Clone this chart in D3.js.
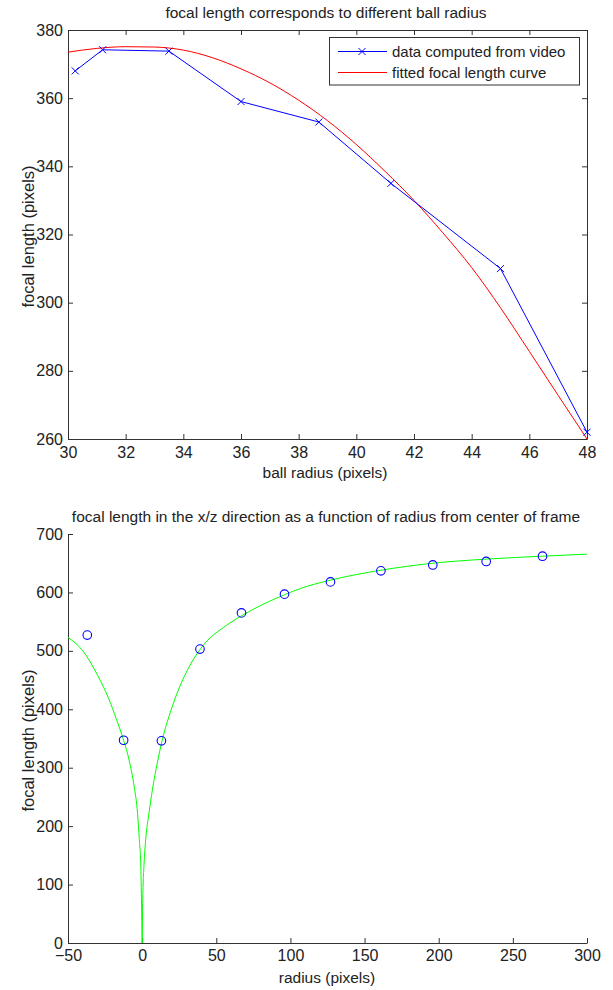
<!DOCTYPE html>
<html>
<head>
<meta charset="utf-8">
<script src="https://cdn.jsdelivr.net/npm/d3@7"></script>
<style>
  body { margin: 0; background: #fff; }
  svg { display: block; font-family: "Liberation Sans", Arial, sans-serif; }
  .axis text { font-size: 16px; fill: #222; }
  .axis path, .axis line { stroke: #333; }
  .title, .label { font-size: 15.5px; fill: #222; }
  .ylabel { font-size: 16.5px; fill: #222; }
  .legend text { font-size: 15px; fill: #222; }
</style>
</head>
<body>
<script>
// top panel: focal length vs ball radius
const ballRadius = [30.25, 31.2, 33.5, 36.0, 38.7, 41.2, 45.0, 48.0];
const focalVideo = [368, 374.2, 373.8, 359, 353, 335, 310, 262];
const fitRadius = [30, 31, 32, 33, 34, 35, 36, 37, 38, 39, 40, 41, 42, 43, 44, 45, 46, 47, 48];
const fitFocal = [373.5, 374.6, 375.1, 375.0, 374.1, 371.9, 368.6, 364.5, 359.4, 353.4, 346.4, 338.5, 330, 320.5, 310.3, 298.5, 285.7, 272.8, 260];
const topXTicks = [30, 32, 34, 36, 38, 40, 42, 44, 46, 48];
const topYTicks = [260, 280, 300, 320, 340, 360, 380];

// bottom panel: focal length vs radius from frame centre
const radiusData = [-37, -12.5, 13, 39, 67, 96, 127, 161, 196, 232, 270];
const focalData = [527, 347, 346, 503, 565, 597, 618, 637, 647, 653, 662];
const fitLeftR = [-50, -40, -30, -22.5, -17.5, -12.5, -8.8, -5.4, -3.1, -1.9, -0.9, -0.3, 0];
const fitLeftF = [523, 500, 458, 418, 384, 347, 313, 268, 222, 177, 131, 50, 0];
const fitRightR = [0, 0.5, 1.2, 2.4, 4.6, 6.9, 10.2, 13.5, 18, 23.5, 30.5, 39.5, 57, 67, 96, 107, 127, 161, 196, 232, 270, 300];
const fitRightF = [0, 85, 131, 177, 222, 262, 308, 347, 387, 427, 467, 504, 544, 560, 596, 607, 621, 638, 650, 657, 662, 665.5];
const botXTicks = [-50, 0, 50, 100, 150, 200, 250, 300];
const botYTicks = [0, 100, 200, 300, 400, 500, 600, 700];

const W = 613, H = 990;
const svg = d3.select("body").append("svg").attr("width", W).attr("height", H);
svg.append("rect").attr("width", W).attr("height", H).attr("fill", "#fff");

const zip = (a, b) => a.map((v, i) => [v, b[i]]);

// ---------- top panel ----------
const x1 = d3.scaleLinear().domain([30, 48]).range([68, 587]);
const y1 = d3.scaleLinear().domain([260, 380]).range([439, 30]);

const upper = svg.append("g");

upper.append("g").attr("class", "axis")
    .attr("transform", `translate(0,${y1.range()[0]})`)
    .call(d3.axisBottom(x1).tickValues(topXTicks).tickSizeInner(-5).tickSizeOuter(0).tickPadding(7.5));
upper.append("g").attr("class", "axis")
    .attr("transform", `translate(0,${y1.range()[1]})`)
    .call(d3.axisTop(x1).tickValues(topXTicks).tickSizeInner(-5).tickSizeOuter(0).tickFormat(""));
upper.append("g").attr("class", "axis")
    .attr("transform", `translate(${x1.range()[0]},0)`)
    .call(d3.axisLeft(y1).tickValues(topYTicks).tickSizeInner(-5).tickSizeOuter(0).tickPadding(5));
upper.append("g").attr("class", "axis")
    .attr("transform", `translate(${x1.range()[1]},0)`)
    .call(d3.axisRight(y1).tickValues(topYTicks).tickSizeInner(-5).tickSizeOuter(0).tickFormat(""));

const line1 = d3.line().x(d => x1(d[0])).y(d => y1(d[1]));
upper.append("path")
    .attr("d", line1.curve(d3.curveMonotoneX)(zip(fitRadius, fitFocal)))
    .attr("fill", "none").attr("stroke", "#ff0000").attr("stroke-width", 1);
upper.append("path")
    .attr("d", line1.curve(d3.curveLinear)(zip(ballRadius, focalVideo)))
    .attr("fill", "none").attr("stroke", "#0000ff").attr("stroke-width", 1);

const cross = "M-3.5,-3.5L3.5,3.5M-3.5,3.5L3.5,-3.5";
upper.selectAll(".xm").data(zip(ballRadius, focalVideo)).join("path")
    .attr("class", "xm")
    .attr("transform", d => `translate(${x1(d[0])},${y1(d[1])})`)
    .attr("d", cross).attr("stroke", "#0000ff").attr("fill", "none");

upper.append("text").attr("class", "title")
    .attr("x", 326).attr("y", 18).attr("text-anchor", "middle")
    .text("focal length corresponds to different ball radius");
upper.append("text").attr("class", "label")
    .attr("x", 325).attr("y", 478).attr("text-anchor", "middle")
    .text("ball radius (pixels)");
upper.append("text").attr("class", "ylabel")
    .attr("transform", `translate(34,${(y1.range()[0] + y1.range()[1]) / 2 + 2}) rotate(-90)`)
    .attr("text-anchor", "middle")
    .text("focal length (pixels)");

// legend
const legend = upper.append("g").attr("class", "legend");
legend.append("rect")
    .attr("x", 329.5).attr("y", 37.5).attr("width", 250).attr("height", 47.5)
    .attr("fill", "#fff").attr("stroke", "#333");
const entries = [
  {name: "data computed from video", color: "#0000ff", marker: true, y: 51.5},
  {name: "fitted focal length curve", color: "#ff0000", marker: false, y: 72.5}
];
entries.forEach(e => {
  legend.append("line").attr("x1", 338).attr("x2", 387).attr("y1", e.y).attr("y2", e.y)
      .attr("stroke", e.color);
  if (e.marker) legend.append("path").attr("d", cross)
      .attr("transform", `translate(362,${e.y})`).attr("stroke", e.color);
  legend.append("text").attr("x", 392).attr("y", e.y + 5).text(e.name);
});

// ---------- bottom panel ----------
const x2 = d3.scaleLinear().domain([-50, 300]).range([68, 587]);
const y2 = d3.scaleLinear().domain([0, 700]).range([943, 534]);

const lower = svg.append("g");
lower.append("g").attr("class", "axis")
    .attr("transform", `translate(0,${y2.range()[0]})`)
    .call(d3.axisBottom(x2).tickValues(botXTicks).tickSizeInner(-5).tickSizeOuter(0).tickPadding(7));
lower.append("g").attr("class", "axis")
    .attr("transform", `translate(${x2.range()[0]},0)`)
    .call(d3.axisLeft(y2).tickValues(botYTicks).tickSizeInner(-5).tickSizeOuter(0).tickPadding(5));

const line2 = d3.line().x(d => x2(d[0])).y(d => y2(d[1])).curve(d3.curveMonotoneX);
[zip(fitLeftR, fitLeftF), zip(fitRightR, fitRightF)].forEach(seg => {
  lower.append("path").attr("d", line2(seg))
      .attr("fill", "none").attr("stroke", "#00ff00").attr("stroke-width", 1);
});

lower.selectAll(".pt").data(zip(radiusData, focalData)).join("circle")
    .attr("class", "pt")
    .attr("cx", d => x2(d[0])).attr("cy", d => y2(d[1])).attr("r", 4.3)
    .attr("fill", "none").attr("stroke", "#0000ff").attr("stroke-width", 1.1);

lower.append("text").attr("class", "title")
    .attr("x", 326).attr("y", 522).attr("text-anchor", "middle")
    .text("focal length in the x/z direction as a function of radius from center of frame");
lower.append("text").attr("class", "label")
    .attr("x", 327).attr("y", 983).attr("text-anchor", "middle")
    .text("radius (pixels)");
lower.append("text").attr("class", "ylabel")
    .attr("transform", `translate(34,${(y2.range()[0] + y2.range()[1]) / 2 + 2}) rotate(-90)`)
    .attr("text-anchor", "middle")
    .text("focal length (pixels)");
</script>
</body>
</html>
